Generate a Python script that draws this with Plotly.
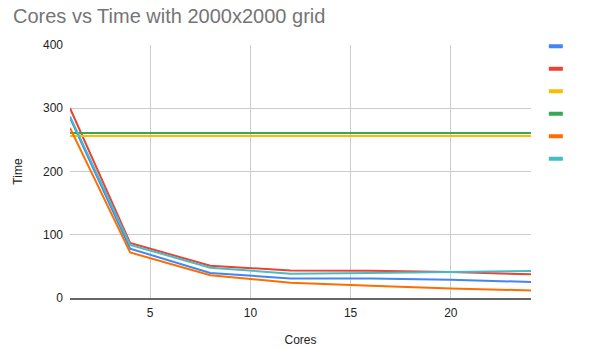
import plotly.graph_objects as go

cores = [1, 4, 8, 12, 16, 20, 24]
series_blue = [285, 78, 39.5, 31, 31, 29, 25.3]
series_red = [300, 87, 51, 43.6, 43, 41, 37.5]
series_yellow = [256, 256, 256, 256, 256, 256, 256]
series_green = [261, 261, 261, 261, 261, 261, 261]
series_orange = [269, 72, 36, 24, 19.5, 15, 12]
series_teal = [287, 84, 48, 38.5, 39.5, 41, 42.6]

colors = ["#4285F4", "#EA4335", "#FBBC04", "#34A853", "#FF6D01", "#46BDC6"]
series = [series_blue, series_red, series_yellow, series_green, series_orange, series_teal]
names = ["", "", "", "", "", ""]

fig = go.Figure()
for s, c in zip(series, colors):
    fig.add_trace(go.Scatter(x=cores, y=s, mode="lines", line=dict(color=c, width=2),
                             showlegend=False, hoverinfo="skip"))
for n, c in zip(names, colors):
    fig.add_trace(go.Scatter(x=[None], y=[None], mode="markers", name=n,
                             marker=dict(symbol="line-ew", size=10, color=c,
                                         line=dict(color=c, width=4)),
                             showlegend=True))

fig.update_layout(
    width=589, height=349,
    margin=dict(l=70, r=58, t=45, b=51, autoexpand=False),
    paper_bgcolor="white", plot_bgcolor="white",
    font=dict(family="Liberation Sans, Arial, sans-serif", size=12, color="#222222"),
    title=dict(text="Cores vs Time with 2000x2000 grid", x=13/589, xanchor="left",
               xref="container", y=1 - 9/349, yanchor="top", yref="container",
               font=dict(size=20, color="#757575")),
    xaxis=dict(range=[1, 24], tickvals=[5, 10, 15, 20], showgrid=True,
               gridcolor="#cccccc", gridwidth=1, zeroline=False,
               showline=True, linecolor="#666666", linewidth=1.5,
               ticks="", ticklabelstandoff=3, automargin=False,
               title=dict(text="Cores", standoff=16, font=dict(size=12))),
    yaxis=dict(range=[0, 400], tickvals=[0, 100, 200, 300, 400], showgrid=True,
               gridcolor="#cccccc", gridwidth=1, zeroline=False,
               ticks="", ticklabelstandoff=6, automargin=False,
               title=dict(text="Time", standoff=17, font=dict(size=12))),
    legend=dict(x=1.0105, xanchor="left", y=1.059, yanchor="top", font=dict(size=15),
                bgcolor="rgba(0,0,0,0)", itemwidth=30),
)

fig.write_html("out.html")
